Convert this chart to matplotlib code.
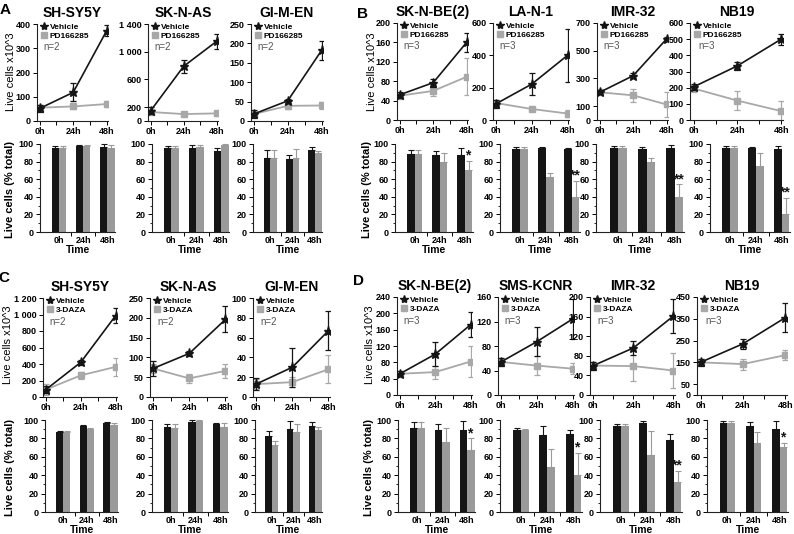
import matplotlib
matplotlib.use('Agg')
import matplotlib.pyplot as plt
from matplotlib.lines import Line2D
from matplotlib import font_manager
import numpy as np

W, H = 794, 534

names = {f.name for f in font_manager.fontManager.ttflist}
BASE = 'Liberation Sans' if 'Liberation Sans' in names else 'DejaVu Sans'
NARROW = 'Liberation Sans Narrow' if 'Liberation Sans Narrow' in names else BASE
plt.rcParams['font.family'] = BASE

BLACK = '#151515'
GRAY_LINE = '#a8a8a8'
GRAY_BAR = '#9a9a9a'

times = [0, 24, 48]
time_labels = ['0h', '24h', '48h']

# --- A: PD166285, line charts (live cells x10^3) ---
a_titles = ['SH-SY5Y', 'SK-N-AS', 'GI-M-EN']
a_veh = [[52, 118, 372], [150, 790, 1150], [18, 52, 182]]
a_veh_err = [[15, 37, 22], [50, 95, 110], [10, 5, 25]]
a_drug = [[55, 60, 70], [130, 100, 110], [18, 39, 40]]
a_drug_err = [[10, 12, 14], [25, 35, 35], [8, 8, 8]]
a_yticks = [[0, 100, 200, 300, 400], [0, 200, 600, 1000, 1400], [0, 50, 100, 150, 200, 250]]
a_ylabels = [['0', '100', '200', '300', '400'], ['0', '200', '600', '1 000', '1 400'],
             ['0', '50', '100', '150', '200', '250']]

# --- B: PD166285, line charts ---
b_titles = ['SK-N-BE(2)', 'LA-N-1', 'IMR-32', 'NB19']
b_veh = [[52, 77, 160], [100, 222, 400], [200, 320, 585], [205, 335, 500]]
b_veh_err = [[6, 8, 19], [25, 68, 165], [15, 20, 12], [20, 25, 35]]
b_drug = [[50, 60, 89], [105, 68, 40], [200, 178, 112], [195, 120, 55]]
b_drug_err = [[5, 10, 38], [15, 15, 20], [15, 45, 88], [20, 60, 65]]
b_yticks = [[0, 40, 80, 120, 160, 200], [0, 200, 400, 600], [0, 100, 300, 500, 700],
            [0, 100, 200, 300, 400, 500, 600]]

# --- C: 3-DAZA, line charts ---
c_titles = ['SH-SY5Y', 'SK-N-AS', 'GI-M-EN']
c_veh = [[90, 420, 985], [72, 110, 196], [13, 30, 67]]
c_veh_err = [[40, 30, 90], [18, 7, 33], [6, 20, 20]]
c_drug = [[90, 262, 365], [72, 47, 66], [13, 15, 28]]
c_drug_err = [[65, 40, 105], [12, 12, 18], [5, 5, 14]]
c_yticks = [[0, 200, 400, 600, 800, 1000, 1200], [0, 50, 100, 150, 200, 250], [0, 20, 40, 60, 80, 100]]
c_ylabels = [['0', '200', '400', '600', '800', '1 000', '1 200'],
             ['0', '50', '100', '150', '200', '250'], ['0', '20', '40', '60', '80', '100']]

# --- D: 3-DAZA, line charts ---
d_titles = ['SK-N-BE(2)', 'SMS-KCNR', 'IMR-32', 'NB19']
d_veh = [[52, 100, 172], [54, 87, 124], [60, 96, 161], [150, 235, 355]]
d_veh_err = [[6, 29, 31], [6, 24, 32], [8, 14, 34], [15, 22, 67]]
d_drug = [[52, 56, 82], [54, 48, 43], [60, 59, 50], [150, 142, 183]]
d_drug_err = [[5, 16, 38], [6, 16, 9], [8, 30, 35], [10, 25, 23]]
d_yticks = [[0, 40, 80, 120, 160, 200, 240], [0, 40, 80, 120, 160], [0, 40, 80, 120, 160, 200],
            [0, 50, 150, 250, 350, 450]]

# --- bar charts: live cells (% total) ---
a_blk = [[95, 98, 97], [95, 96, 92], [84, 83, 93]]
a_blk_err = [[3, 1, 3], [3, 3, 4], [9, 4, 4]]
a_gry = [[95, 98, 96], [95, 97, 99], [84, 84, 90]]
a_gry_err = [[3, 1, 3], [3, 2, 1], [9, 10, 2]]
a_sig = ['', '', '']

b_blk = [[89, 88, 87], [94, 95, 94], [95, 94, 95], [96, 95, 94]]
b_blk_err = [[4, 4, 8], [3, 2, 2], [3, 3, 4], [2, 2, 4]]
b_gry = [[89, 80, 70], [94, 62, 40], [95, 79, 40], [96, 75, 20]]
b_gry_err = [[4, 10, 11], [3, 5, 18], [3, 5, 14], [2, 15, 19]]
b_sig = ['*', '**', '**', '**']

c_blk = [[87, 94, 97], [92, 98, 96], [83, 90, 93]]
c_blk_err = [[1, 1, 1], [4, 2, 1], [5, 9, 5]]
c_gry = [[87, 90, 95], [91, 99, 92], [73, 87, 89]]
c_gry_err = [[1, 1, 2], [5, 1, 5], [4, 9, 3]]
c_sig = ['', '', '']

d_blk = [[91, 89, 89], [89, 84, 85], [93, 97, 78], [97, 94, 90]]
d_blk_err = [[7, 7, 10], [2, 9, 4], [3, 2, 7], [2, 4, 9]]
d_gry = [[91, 76, 67], [89, 49, 40], [93, 62, 33], [97, 75, 71]]
d_gry_err = [[7, 15, 13], [1, 19, 24], [3, 26, 12], [2, 12, 4]]
d_sig = ['*', '*', '**', '*']


def add_ax(fig, x0, y0, x1, y1):
    return fig.add_axes([x0 / W, 1 - y1 / H, (x1 - x0) / W, (y1 - y0) / H])


def style_spines(ax):
    for s in ['top', 'right']:
        ax.spines[s].set_visible(False)
    for s in ['left', 'bottom']:
        ax.spines[s].set_linewidth(0.8)
        ax.spines[s].set_color('#222222')


def line_panel(ax, title, veh, veh_err, drug, drug_err, drug_name, n, yticks, ylabels=None):
    ax.errorbar(times, drug, yerr=drug_err, color=GRAY_LINE, marker='s', ms=4.5, lw=1.3,
                capsize=2, elinewidth=0.9, capthick=0.9, zorder=2)
    ax.errorbar(times, veh, yerr=veh_err, color=BLACK, marker='*', ms=6.5, lw=1.2,
                capsize=2, elinewidth=0.9, capthick=0.9, zorder=3)
    ax.set_xlim(-2, 49)
    ax.set_ylim(0, yticks[-1])
    ax.set_xticks([0, 12, 24, 36, 48], ['0h', '', '24h', '', '48h'])
    ax.set_yticks(yticks, ylabels if ylabels else [str(t) for t in yticks])
    ax.tick_params(length=3, width=0.7, labelsize=6.5, pad=1.5)
    for lab in ax.get_xticklabels() + ax.get_yticklabels():
        lab.set_fontweight('bold')
    style_spines(ax)
    ax.set_title(title, fontsize=10, fontweight='bold', pad=5)
    handles = [Line2D([], [], color=BLACK, marker='*', ls='none', ms=6),
               Line2D([], [], color=GRAY_LINE, marker='s', ls='none', ms=4.5)]
    ax.legend(handles, ['Vehicle', drug_name], loc='upper left', bbox_to_anchor=(0.0, 1.04),
              frameon=False, prop={'size': 6, 'weight': 'bold'}, handlelength=0.8,
              handletextpad=0.3, labelspacing=0.15, borderaxespad=0.2, borderpad=0.2)
    ax.text(0.09, 0.76, 'n=%d' % n, transform=ax.transAxes, color='#555555', fontsize=7,
            va='center', ha='left')


def bar_panel(ax, blk, blk_err, gry, gry_err, sig):
    x = np.arange(3)
    w = 0.3
    zeros = np.zeros(3)
    ekw = dict(capsize=2, elinewidth=0.8, capthick=0.8)
    ax.bar(x - w / 2, blk, w, color=BLACK, yerr=[zeros, blk_err], error_kw=dict(ecolor=BLACK, **ekw))
    ax.bar(x + w / 2, gry, w, color=GRAY_BAR, yerr=[zeros, gry_err], error_kw=dict(ecolor=GRAY_BAR, **ekw))
    ax.set_xlim(-0.78, 2.32)
    ax.set_ylim(0, 104)
    ax.spines['left'].set_bounds(0, 100)
    ax.set_yticks([0, 20, 40, 60, 80, 100])
    ax.set_yticks(np.arange(10, 100, 10), minor=True)
    ax.set_xticks([0.5, 1.5], ['', ''])
    ax.set_xticks(x, time_labels, minor=True)
    ax.tick_params(axis='x', which='minor', length=0, pad=3)
    ax.tick_params(axis='x', which='major', length=3, width=0.7)
    ax.tick_params(axis='y', which='major', length=3, width=0.7, pad=1.5)
    ax.tick_params(axis='y', which='minor', length=1.5, width=0.6)
    for lab in ax.get_xticklabels(minor=True) + ax.get_yticklabels():
        lab.set_fontfamily(NARROW)
        lab.set_fontweight('bold')
        lab.set_fontsize(6.5)
    style_spines(ax)
    ax.set_xlabel('Time', fontsize=7.5, fontweight='bold', labelpad=0)
    if sig:
        ax.text(2 + w / 2 - 0.04, gry[2] + gry_err[2] - 2, sig, ha='center', va='bottom',
                fontsize=10, fontweight='bold', color=BLACK)


fig = plt.figure(figsize=(W / 100, H / 100), dpi=100)

# row A / B line charts
a_boxes = [(37, 108), (148, 218), (251, 323)]
for i, (x0, x1) in enumerate(a_boxes):
    ax = add_ax(fig, x0, 24, x1, 121)
    line_panel(ax, a_titles[i], a_veh[i], a_veh_err[i], a_drug[i], a_drug_err[i],
               'PD166285', 2, a_yticks[i], a_ylabels[i])

b_boxes = [(397, 468), (493, 569), (597, 668), (690, 783)]
for i, (x0, x1) in enumerate(b_boxes):
    ax = add_ax(fig, x0, 23, x1, 120)
    line_panel(ax, b_titles[i], b_veh[i], b_veh_err[i], b_drug[i], b_drug_err[i],
               'PD166285', 3, b_yticks[i])

c_boxes = [(43, 117), (150, 227), (253, 330)]
for i, (x0, x1) in enumerate(c_boxes):
    ax = add_ax(fig, x0, 298, x1, 397)
    line_panel(ax, c_titles[i], c_veh[i], c_veh_err[i], c_drug[i], c_drug_err[i],
               '3-DAZA', 2, c_yticks[i], c_ylabels[i])

d_boxes = [(397, 472), (498, 574), (590, 675), (697, 787)]
for i, (x0, x1) in enumerate(d_boxes):
    ax = add_ax(fig, x0, 297, x1, 395)
    line_panel(ax, d_titles[i], d_veh[i], d_veh_err[i], d_drug[i], d_drug_err[i],
               '3-DAZA', 3, d_yticks[i])

# bar charts: top of axes sits 4% above the 100 tick
def bar_box(x0, x1, y100, y0):
    top = y100 - (y0 - y100) * 0.04
    return add_ax(fig, x0, top, x1, y0)

ab_boxes = [(40, 115), (152, 229), (253, 322)]
for i, (x0, x1) in enumerate(ab_boxes):
    bar_panel(bar_box(x0, x1, 144, 232), a_blk[i], a_blk_err[i], a_gry[i], a_gry_err[i], a_sig[i])

bb_boxes = [(395, 473), (500, 580), (596, 684), (710, 790)]
for i, (x0, x1) in enumerate(bb_boxes):
    bar_panel(bar_box(x0, x1, 144, 232), b_blk[i], b_blk_err[i], b_gry[i], b_gry_err[i], b_sig[i])

cb_boxes = [(45, 118), (152, 228), (255, 322)]
for i, (x0, x1) in enumerate(cb_boxes):
    bar_panel(bar_box(x0, x1, 420, 512), c_blk[i], c_blk_err[i], c_gry[i], c_gry_err[i], c_sig[i])

db_boxes = [(398, 475), (500, 582), (600, 682), (707, 788)]
for i, (x0, x1) in enumerate(db_boxes):
    bar_panel(bar_box(x0, x1, 420, 512), d_blk[i], d_blk_err[i], d_gry[i], d_gry_err[i], d_sig[i])

# shared y labels and panel letters
for x, y in [(11, 72), (372, 72), (8, 345), (370, 345)]:
    fig.text(x / W, 1 - y / H, 'Live cells x10^3', rotation=90, ha='center', va='center', fontsize=8)
for x, y in [(10, 189), (367, 189), (10, 467), (369, 467)]:
    fig.text(x / W, 1 - y / H, 'Live cells (% total)', rotation=90, ha='center', va='center',
             fontsize=8, fontweight='bold')
for letter, x, y in [('A', 5, 10), ('B', 362, 14), ('C', 4, 278), ('D', 358, 281)]:
    fig.text(x / W, 1 - y / H, letter, ha='center', va='center', fontsize=11, fontweight='bold')

fig.savefig('out.png', dpi=100)
